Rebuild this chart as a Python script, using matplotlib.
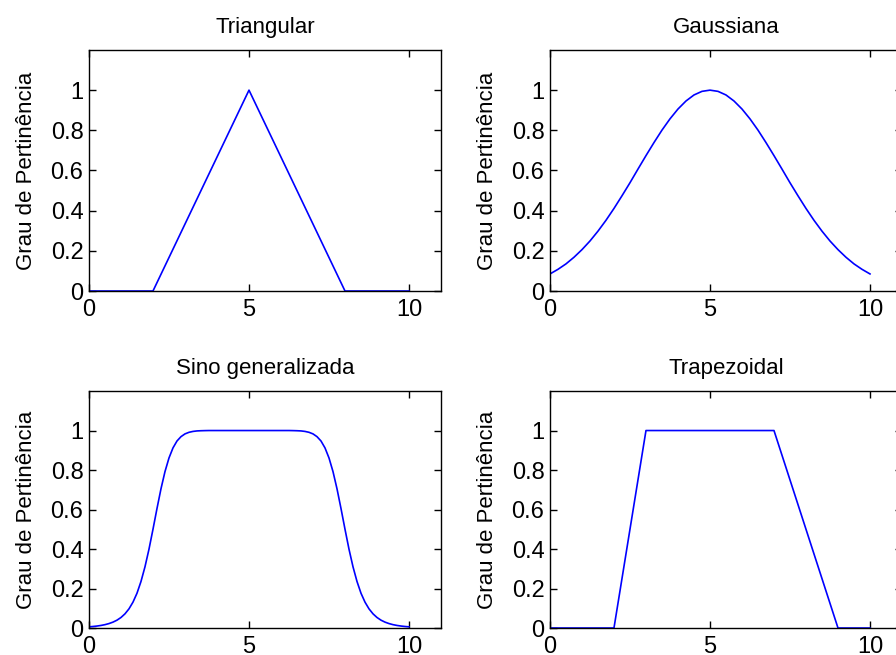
import matplotlib
matplotlib.use('Agg')
import matplotlib.pyplot as plt

plt.rcParams['font.family'] = ['Liberation Sans', 'DejaVu Sans']

# Triangular (trimf 2 5 8)
tri_x = [0, 2, 5, 8, 10]
tri_y = [0, 0, 1, 0, 0]

# Gaussiana, lida no gráfico a cada 0.25
gau_x = [i * 0.25 for i in range(41)]
gau_y = [0.085, 0.108, 0.135, 0.168, 0.206, 0.249, 0.298, 0.352, 0.411, 0.474,
         0.539, 0.607, 0.674, 0.739, 0.801, 0.857, 0.906, 0.946, 0.976, 0.994,
         1.0,
         0.994, 0.976, 0.946, 0.906, 0.857, 0.801, 0.739, 0.674, 0.607, 0.539,
         0.474, 0.411, 0.352, 0.298, 0.249, 0.206, 0.168, 0.135, 0.108, 0.085]

# Sino generalizada, lida a cada 0.125
sino_x = [i * 0.125 for i in range(81)]
sino_y = [0.006, 0.0077, 0.010, 0.013, 0.017, 0.0225, 0.0298, 0.0397, 0.0533, 0.0718,
          0.097, 0.131, 0.176, 0.2355, 0.310, 0.399, 0.500, 0.605, 0.705, 0.792,
          0.861, 0.912, 0.947, 0.969, 0.983, 0.991, 0.9955, 0.998, 0.999, 0.9996,
          1.0, 1.0, 1.0, 1.0, 1.0, 1.0, 1.0, 1.0, 1.0, 1.0,
          1.0,
          1.0, 1.0, 1.0, 1.0, 1.0, 1.0, 1.0, 1.0, 1.0, 1.0,
          0.9996, 0.999, 0.998, 0.9955, 0.991, 0.983, 0.969, 0.947, 0.912, 0.861,
          0.792, 0.705, 0.605, 0.500, 0.399, 0.310, 0.2355, 0.176, 0.131, 0.097,
          0.0718, 0.0533, 0.0397, 0.0298, 0.0225, 0.017, 0.013, 0.010, 0.0077, 0.006]

# Trapezoidal (trapmf 2 3 7 9)
trap_x = [0, 2, 3, 7, 9, 10]
trap_y = [0, 0, 1, 1, 0, 0]

titulos = ['Triangular', 'Gaussiana', 'Sino generalizada', 'Trapezoidal']
xticks = [0, 5, 10]
yticks = [0, 0.2, 0.4, 0.6, 0.8, 1]
ytick_labels = ['0', '0.2', '0.4', '0.6', '0.8', '1']

fig = plt.figure(figsize=(8.96, 6.55), dpi=100)

# posições [esq, baixo, larg, alt] em fração da figura
posicoes = [
    [0.0993, 0.5557, 0.3929, 0.368],
    [0.6138, 0.5557, 0.3929, 0.368],
    [0.0993, 0.0412, 0.3929, 0.3618],
    [0.6138, 0.0412, 0.3929, 0.3618],
]
dados = [(tri_x, tri_y), (gau_x, gau_y), (sino_x, sino_y), (trap_x, trap_y)]

for pos, (xs, ys), titulo in zip(posicoes, dados, titulos):
    ax = fig.add_axes(pos)
    ax.plot(xs, ys, color='blue', linewidth=1.2)
    ax.set_xlim(0, 11)
    ax.set_ylim(0, 1.2)
    ax.set_xticks(xticks)
    ax.set_yticks(yticks)
    ax.set_yticklabels(ytick_labels)
    ax.tick_params(direction='in', top=True, right=True, length=5, width=1,
                   labelsize=17)
    ax.tick_params(axis='x', pad=6)
    ax.tick_params(axis='y', pad=4)
    for s in ax.spines.values():
        s.set_linewidth(1.0)
    ax.set_title(titulo, fontsize=16, pad=12)
    ax.set_ylabel('Grau de Pertinência', fontsize=16, labelpad=10)

fig.savefig('out.png', dpi=100)
